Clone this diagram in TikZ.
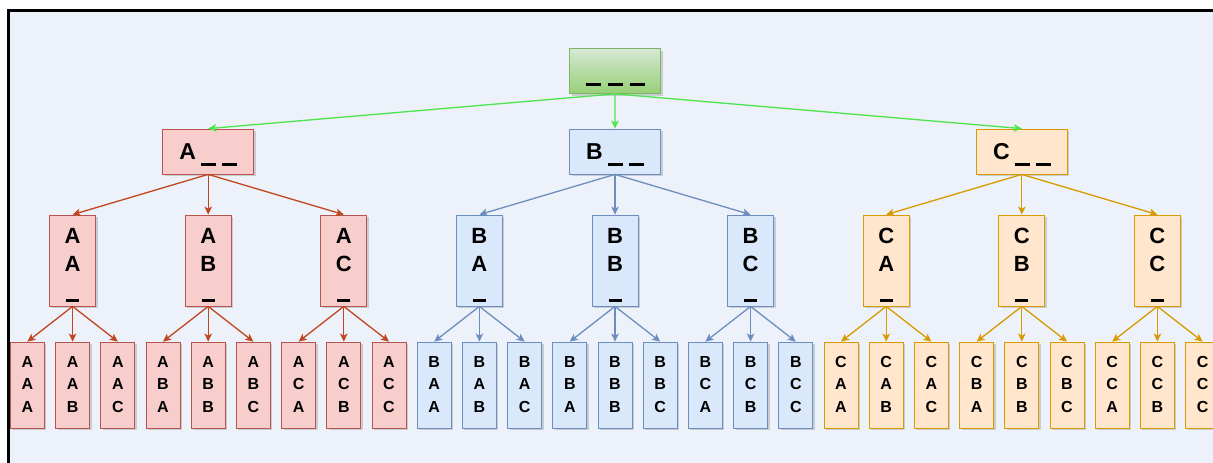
\documentclass[tikz,border=0pt]{standalone}
\usepackage{fontspec}
\setmainfont{Liberation Sans}
\usetikzlibrary{arrows.meta,shadows}

\definecolor{bgpanel}{HTML}{EDF1F9}
\definecolor{fill0}{HTML}{F8CECC}\definecolor{line0}{HTML}{B85450}\definecolor{edge0}{HTML}{C0461F}
\definecolor{fill1}{HTML}{DAE8FC}\definecolor{line1}{HTML}{6C8EBF}\definecolor{edge1}{HTML}{6C8EBF}
\definecolor{fill2}{HTML}{FFE6CC}\definecolor{line2}{HTML}{D79B00}\definecolor{edge2}{HTML}{D79B00}
\definecolor{rootTop}{HTML}{D5E8D4}\definecolor{rootBot}{HTML}{97D077}
\definecolor{rootLine}{HTML}{82B366}\definecolor{rootEdge}{HTML}{4CE64C}

% letter for index 0,1,2
\newcommand\lt[1]{\ifcase#1 A\or B\or C\fi}
% blank slots drawn as heavy bars
\newcommand\slotwide{\rule[-6.5pt]{15pt}{3pt}}
\newcommand\slotnarrow{\rule[-3pt]{13pt}{2.8pt}}
% three centred lines stacked, baseline on the last one
\newcommand\colstack[3]{\vbox{\halign{\hfil##\hfil\cr#1\cr#2\cr#3\cr}}}

\begin{document}
\begin{tikzpicture}[x=1pt,y=-1pt,
  box/.style={line width=0.8pt, inner sep=0pt,
    drop shadow={shadow xshift=2pt,shadow yshift=-2pt,opacity=0.15,fill=black}},
  grp/.style={box, fill=fill#1, draw=line#1},
  rootbox/.style={box, top color=rootTop, bottom color=rootBot, draw=rootLine},
  lvlone/.style={minimum width=91pt, minimum height=45pt,
    font=\fontsize{23}{28}\selectfont\bfseries, text height=16.5pt, text depth=0pt},
  lvltwo/.style={minimum width=46pt, minimum height=91pt,
    font=\fontsize{22}{28}\selectfont\bfseries, text height=77pt, text depth=0pt},
  lvlthree/.style={minimum width=34pt, minimum height=86pt,
    font=\fontsize{16}{22.5}\selectfont\bfseries, text depth=1.5pt},
  arrowlink/.style={draw=#1, line width=1.3pt, -{Stealth[length=8pt,width=7.5pt,inset=2pt]}},
]
\useasboundingbox (0,0) rectangle (1213,463);
\clip (0,0) rectangle (1213,463);
\fill[white] (0,0) rectangle (1213,463);

% panel with its frame
\fill[bgpanel] (8.5,10.5) rectangle (1240,490);
\draw[line width=2.5pt] (8.5,490) -- (8.5,10.5) -- (1240,10.5);

% root
\node[rootbox, lvlone] (r) at (615,71) {\slotwide\hspace{7pt}\slotwide\hspace{7pt}\slotwide};

% first letter
\foreach \k in {0,1,2} {
  \pgfmathsetmacro\x{27.4+45.2*(9*\k+4)}
  \node[grp=\k, lvlone] (a\k) at (\x,151.5) {\lt{\k}\hspace{5pt}\slotwide\hspace{6pt}\slotwide};
  \draw[arrowlink=rootEdge] (r.south) -- (a\k.north);
}

% two letters
\foreach \j in {0,...,8} {
  \pgfmathtruncatemacro\g{int(\j/3)}
  \pgfmathtruncatemacro\m{mod(\j,3)}
  \pgfmathsetmacro\x{27.4+45.2*(3*\j+1)}
  \node[grp=\g, lvltwo] (b\j) at (\x,260.5) {\colstack{\lt{\g}}{\lt{\m}}{\slotnarrow}};
  \draw[arrowlink=edge\g] (a\g.south) -- (b\j.north);
}

% three letters
\foreach \i in {0,...,26} {
  \pgfmathtruncatemacro\g{int(\i/9)}
  \pgfmathtruncatemacro\m{int(mod(\i,9)/3)}
  \pgfmathtruncatemacro\n{mod(\i,3)}
  \pgfmathtruncatemacro\p{int(\i/3)}
  \pgfmathsetmacro\x{27.4+45.2*\i}
  \node[grp=\g, lvlthree] (c\i) at (\x,385) {\colstack{\lt{\g}}{\lt{\m}}{\lt{\n}}};
  \draw[arrowlink=edge\g] (b\p.south) -- (c\i.north);
}
\end{tikzpicture}
\end{document}
